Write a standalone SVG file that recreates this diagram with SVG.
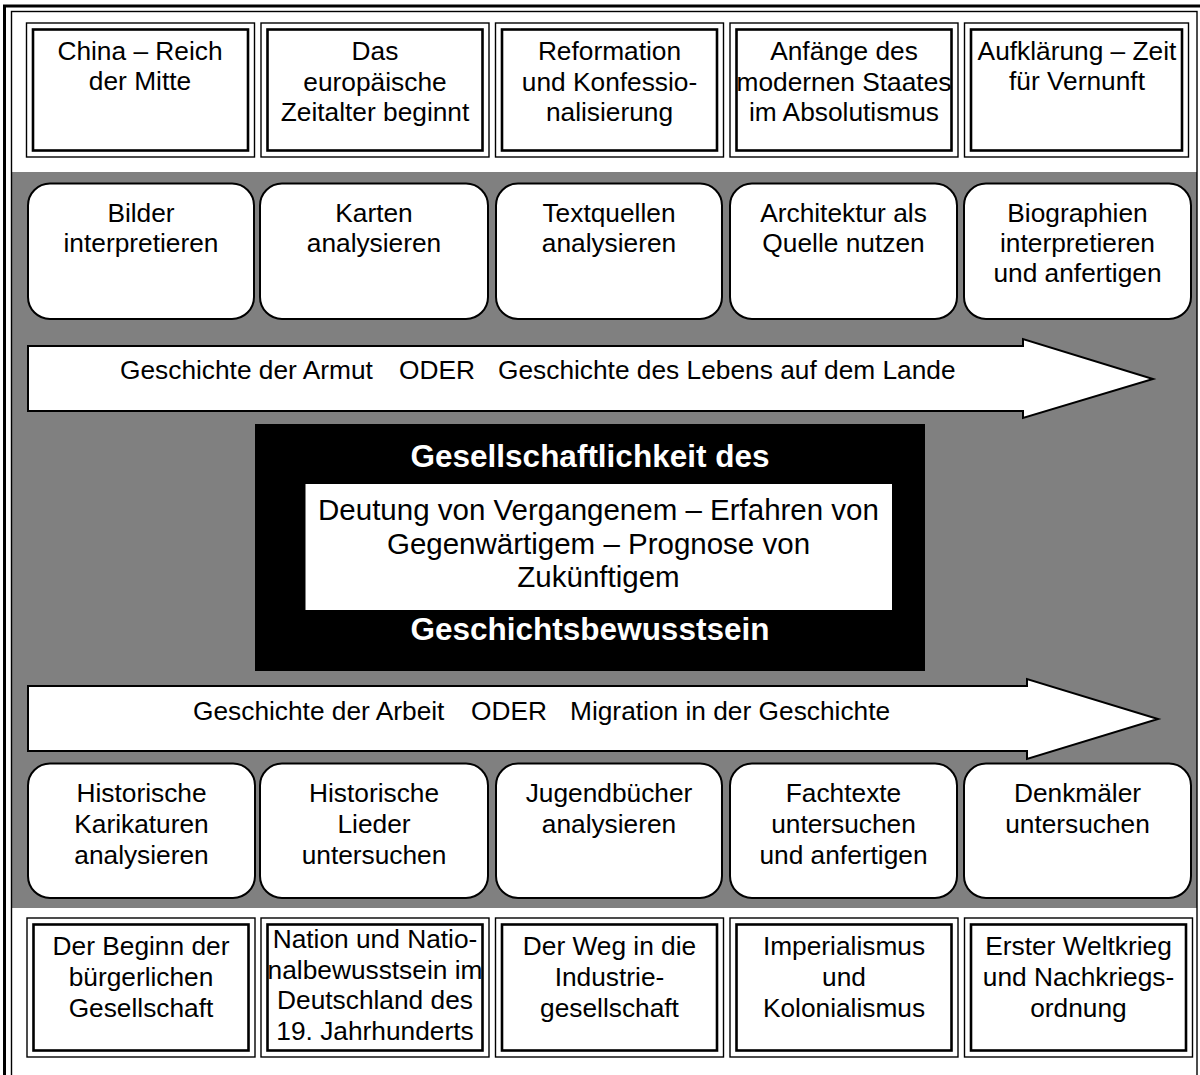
<svg xmlns="http://www.w3.org/2000/svg" width="1200" height="1075" viewBox="0 0 1200 1075">
<style>
text{font-family:"Liberation Sans",Arial,sans-serif;font-size:26.3px;fill:#000;text-anchor:middle}
.o{fill:none;stroke:#000;stroke-width:1.4}
.i{fill:#fff;stroke:#000;stroke-width:2.6}
.r{fill:#fff;stroke:#000;stroke-width:2}
.a{fill:#fff;stroke:#000;stroke-width:2;stroke-linejoin:miter}
.l{text-anchor:start}
.t{font-weight:bold;font-size:31.5px;fill:#fff}
.c{font-size:29.5px}
</style>
<rect x="0" y="0" width="1200" height="1075" fill="#fff"/>
<rect x="12" y="172" width="1185" height="736" fill="#808080"/>
<g id="frame">
<rect x="4.5" y="6" width="1210" height="1100" fill="none" stroke="#000" stroke-width="3"/>
<rect x="11.5" y="11.5" width="1185.5" height="1090" fill="none" stroke="#000" stroke-width="1.4"/>
</g>
<g id="top-row">
<g id="t1"><rect class="o" x="26.5" y="23" width="228" height="134"/><rect class="i" x="33" y="29.5" width="215" height="121"/><text x="140" y="60">China – Reich</text><text x="140" y="90">der Mitte</text></g>
<g id="t2"><rect class="o" x="261" y="23" width="228" height="134"/><rect class="i" x="267.5" y="29.5" width="215" height="121"/><text x="375" y="60">Das</text><text x="375" y="91">europäische</text><text x="375" y="121">Zeitalter beginnt</text></g>
<g id="t3"><rect class="o" x="495.5" y="23" width="228" height="134"/><rect class="i" x="502" y="29.5" width="215" height="121"/><text x="609.5" y="60">Reformation</text><text x="609.5" y="91">und Konfessio-</text><text x="609.5" y="121">nalisierung</text></g>
<g id="t4"><rect class="o" x="730" y="23" width="228" height="134"/><rect class="i" x="736.5" y="29.5" width="215" height="121"/><text x="844" y="60">Anfänge des</text><text x="844" y="91">modernen Staates</text><text x="844" y="121">im Absolutismus</text></g>
<g id="t5"><rect class="o" x="964.5" y="23" width="224" height="134"/><rect class="i" x="971" y="29.5" width="211" height="121"/><text x="1077" y="60">Aufklärung – Zeit</text><text x="1077" y="90">für Vernunft</text></g>
</g>
<g id="methods-top">
<g id="m1"><rect class="r" x="28" y="183.5" width="226" height="135.5" rx="22"/><text x="141" y="222">Bilder</text><text x="141" y="252">interpretieren</text></g>
<g id="m2"><rect class="r" x="260" y="183.5" width="228" height="135.5" rx="22"/><text x="374" y="222">Karten</text><text x="374" y="252">analysieren</text></g>
<g id="m3"><rect class="r" x="496" y="183.5" width="226" height="135.5" rx="22"/><text x="609" y="222">Textquellen</text><text x="609" y="252">analysieren</text></g>
<g id="m4"><rect class="r" x="730" y="183.5" width="227" height="135.5" rx="22"/><text x="843.5" y="222">Architektur als</text><text x="843.5" y="252">Quelle nutzen</text></g>
<g id="m5"><rect class="r" x="964" y="183.5" width="227" height="135.5" rx="22"/><text x="1077.5" y="222">Biographien</text><text x="1077.5" y="252">interpretieren</text><text x="1077.5" y="282">und anfertigen</text></g>
</g>
<g id="connectors">
<g id="arrow1"><path class="a" d="M28,346 H1023 V339 L1153,379 L1023,418 V411 H28 Z"/><text class="l" x="120" y="379">Geschichte der Armut</text><text class="l" x="399" y="379">ODER</text><text class="l" x="498" y="379">Geschichte des Lebens auf dem Lande</text></g>
<g id="arrow2"><path class="a" d="M28,686 H1027 V679 L1158,719 L1027,759 V751 H28 Z"/><text class="l" x="193" y="720">Geschichte der Arbeit</text><text class="l" x="471" y="720">ODER</text><text class="l" x="570" y="720">Migration in der Geschichte</text></g>
</g>
<g id="center">
<rect x="255" y="424" width="670" height="247" fill="#000"/>
<rect x="305.5" y="484" width="586.5" height="126" fill="#fff"/>
<text class="t" x="590" y="467">Gesellschaftlichkeit des</text>
<text class="c" x="598.5" y="520">Deutung von Vergangenem – Erfahren von</text>
<text class="c" x="598.5" y="554">Gegenwärtigem – Prognose von</text>
<text class="c" x="598.5" y="587">Zukünftigem</text>
<text class="t" x="590" y="640">Geschichtsbewusstsein</text>
</g>
<g id="methods-bottom">
<g id="n1"><rect class="r" x="28" y="763.5" width="227" height="134.5" rx="22"/><text x="141.5" y="802">Historische</text><text x="141.5" y="833">Karikaturen</text><text x="141.5" y="864">analysieren</text></g>
<g id="n2"><rect class="r" x="260" y="763.5" width="228" height="134.5" rx="22"/><text x="374" y="802">Historische</text><text x="374" y="833">Lieder</text><text x="374" y="864">untersuchen</text></g>
<g id="n3"><rect class="r" x="496" y="763.5" width="226" height="134.5" rx="22"/><text x="609" y="802">Jugendbücher</text><text x="609" y="833">analysieren</text></g>
<g id="n4"><rect class="r" x="730" y="763.5" width="227" height="134.5" rx="22"/><text x="843.5" y="802">Fachtexte</text><text x="843.5" y="833">untersuchen</text><text x="843.5" y="864">und anfertigen</text></g>
<g id="n5"><rect class="r" x="964" y="763.5" width="227" height="134.5" rx="22"/><text x="1077.5" y="802">Denkmäler</text><text x="1077.5" y="833">untersuchen</text></g>
</g>
<g id="bottom-row">
<g id="b1"><rect class="o" x="27" y="918" width="228" height="139"/><rect class="i" x="33.5" y="924.5" width="215" height="126"/><text x="141" y="955">Der Beginn der</text><text x="141" y="986">bürgerlichen</text><text x="141" y="1017">Gesellschaft</text></g>
<g id="b2"><rect class="o" x="261" y="918" width="228" height="139"/><rect class="i" x="267.5" y="924.5" width="215" height="126"/><text x="375" y="948">Nation und Natio-</text><text x="375" y="979">nalbewusstsein im</text><text x="375" y="1009">Deutschland des</text><text x="375" y="1040">19. Jahrhunderts</text></g>
<g id="b3"><rect class="o" x="495.5" y="918" width="228" height="139"/><rect class="i" x="502" y="924.5" width="215" height="126"/><text x="609.5" y="955">Der Weg in die</text><text x="609.5" y="986">Industrie-</text><text x="609.5" y="1017">gesellschaft</text></g>
<g id="b4"><rect class="o" x="730" y="918" width="228" height="139"/><rect class="i" x="736.5" y="924.5" width="215" height="126"/><text x="844" y="955">Imperialismus</text><text x="844" y="986">und</text><text x="844" y="1017">Kolonialismus</text></g>
<g id="b5"><rect class="o" x="964.5" y="918" width="228" height="139"/><rect class="i" x="971" y="924.5" width="215" height="126"/><text x="1078.5" y="955">Erster Weltkrieg</text><text x="1078.5" y="986">und Nachkriegs-</text><text x="1078.5" y="1017">ordnung</text></g>
</g>
</svg>
